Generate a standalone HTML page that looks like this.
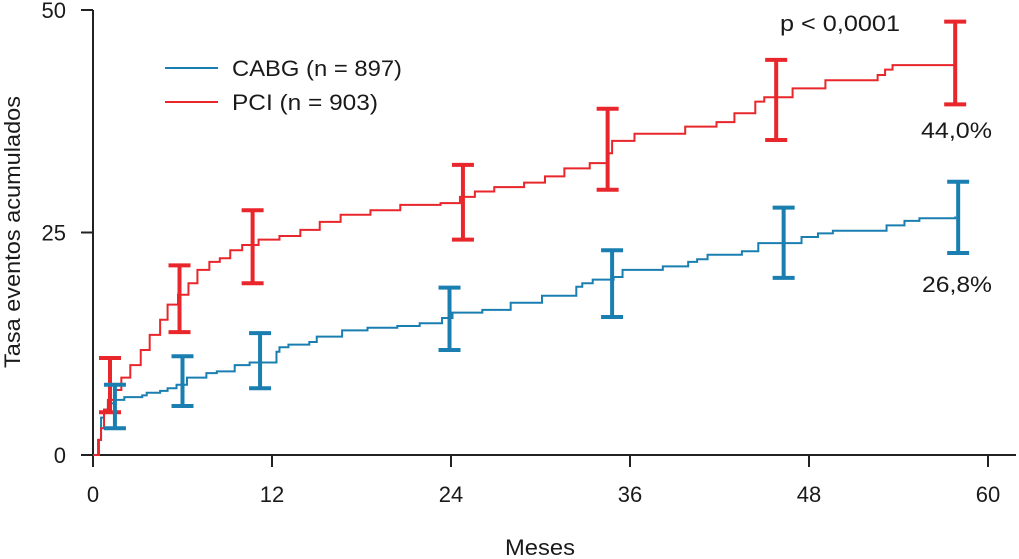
<!DOCTYPE html>
<html><head><meta charset="utf-8"><style>
html,body{margin:0;padding:0;background:#fff}
svg{display:block}
text{font-family:"Liberation Sans Narrow","Liberation Sans",sans-serif;fill:#1a1a1a}
</style></head><body>
<svg id="chart" width="1019" height="559" viewBox="0 0 1019 559" xmlns="http://www.w3.org/2000/svg">
<g id="axes"></g>
<g id="series"></g>
<g>
  <line x1="165" y1="68" x2="218" y2="68" stroke="#1a7fb0" stroke-width="2"/>
  <text x="232" y="76" font-size="22" textLength="170" lengthAdjust="spacingAndGlyphs">CABG (n = 897)</text>
  <line x1="165" y1="102" x2="218" y2="102" stroke="#e8262b" stroke-width="2"/>
  <text x="232" y="110" font-size="22" textLength="146" lengthAdjust="spacingAndGlyphs">PCI (n = 903)</text>
</g>
<text x="780" y="31" font-size="22" textLength="120" lengthAdjust="spacingAndGlyphs">p &lt; 0,0001</text>
<text x="921" y="138" font-size="22" textLength="71" lengthAdjust="spacingAndGlyphs">44,0%</text>
<text x="922" y="292" font-size="22" textLength="70" lengthAdjust="spacingAndGlyphs">26,8%</text>
<text transform="translate(20,232) rotate(-90)" text-anchor="middle" font-size="22" textLength="272" lengthAdjust="spacingAndGlyphs">Tasa eventos acumulados</text>
<text x="540" y="555" text-anchor="middle" font-size="22" textLength="70" lengthAdjust="spacingAndGlyphs">Meses</text>
</svg>
<script>
const xTicks=[0,12,24,36,48,60];
const yTicks=[0,25,50];
const pciMonths=[0.13,0.34,0.54,0.74,1.0,1.5,1.9,2.5,3.2,3.8,4.5,5.0,5.7,6.4,7.0,7.8,8.5,9.2,10.0,11.1,12.5,13.9,15.2,16.6,18.6,20.6,23.3,24.6,25.6,26.9,28.9,30.3,31.6,33.3,34.5,34.8,36.3,39.7,41.8,43.0,44.4,45.0,46.9,49.1,52.6,53.1,53.6,57.8];
const pciValues=[0,1.7,3.0,5.1,6.2,7.3,8.7,10.1,11.8,13.5,15.2,16.9,18.0,19.3,20.8,21.7,22.1,23.0,23.6,24.2,24.6,25.3,26.2,27.0,27.5,28.1,28.3,29.0,29.6,30.1,30.6,31.3,32.2,32.8,33.9,35.3,36.1,36.9,37.4,38.4,39.7,40.2,41.2,42.1,42.7,43.3,43.8,44.0];
const cabgMonths=[0.27,0.4,0.54,0.74,1.0,1.5,2.1,3.3,3.6,4.5,5.0,5.6,6.3,7.6,8.3,9.5,10.5,12.3,12.5,13.1,14.5,15.0,16.7,18.4,20.4,21.9,23.4,24.1,26.1,28.0,30.1,32.4,32.8,33.5,34.9,35.5,38.2,39.9,40.5,41.2,43.5,44.6,47.5,48.6,49.6,53.2,54.4,55.4,57.8];
const cabgValues=[0,1.7,4.2,5.1,5.8,6.2,6.5,6.7,7.0,7.2,7.5,7.9,8.7,9.2,9.4,10.1,10.4,11.6,12.1,12.4,12.7,13.3,14.0,14.3,14.5,14.8,15.4,16.0,16.3,17.1,17.9,18.9,19.3,19.7,20.0,20.8,21.2,21.7,22.0,22.5,22.9,23.8,24.5,24.9,25.2,25.8,26.3,26.6,26.8];
const pciErrMonths=[1.14,5.8,10.7,24.8,34.5,45.8,57.8];
const pciErrHigh=[10.9,21.3,27.5,32.6,38.9,44.4,48.7];
const pciErrLow=[4.8,13.8,19.3,24.2,29.8,35.4,39.4];
const cabgErrMonths=[1.47,6.0,11.2,23.9,34.8,46.3,58.0];
const cabgErrHigh=[7.9,11.1,13.7,18.8,23.0,27.8,30.7];
const cabgErrLow=[3.0,5.5,7.5,11.8,15.5,19.9,22.7];

const NS='http://www.w3.org/2000/svg';
const X=m=>93+m*(988-93)/60;
const Y=v=>455-v*(455-10)/50;
function mk(tag,attrs,parent){const e=document.createElementNS(NS,tag);for(const k in attrs)e.setAttribute(k,attrs[k]);parent.appendChild(e);return e;}
const axes=document.getElementById('axes');
const series=document.getElementById('series');
let el;
el=mk('line',{x1:93,y1:10,x2:93,y2:456,stroke:'#222','stroke-width':2},axes);


el=mk('line',{x1:92,y1:455,x2:1016,y2:455,stroke:'#222','stroke-width':2},axes);


xTicks.forEach(t=>{
  el=mk('line',{x1:X(t),y1:455,x2:X(t),y2:467,stroke:'#222','stroke-width':2},axes);
  
  
  el=mk('text',{x:X(t),y:502,'text-anchor':'middle','font-size':22},axes);
  el.textContent=t;
  
  
});
yTicks.forEach(t=>{
  el=mk('line',{x1:81,y1:Y(t),x2:93,y2:Y(t),stroke:'#222','stroke-width':2},axes);
  
  
  el=mk('text',{x:66,y:Y(t)+8,'text-anchor':'end','font-size':22},axes);
  el.textContent=t;
  
  
});
function step(ms,vs,color,name){
  let d='M'+X(0)+','+Y(0);
  for(let i=0;i<ms.length;i++){d+=' H'+X(ms[i])+' V'+Y(vs[i]);}
  el=mk('path',{d:d,fill:'none',stroke:color,'stroke-width':2},series);
  
  
}
function errs(ms,hi,lo,color,name){
  for(let i=0;i<ms.length;i++){
    const g=mk('g',{stroke:color,'stroke-width':4},series);
    
    
    const x=X(ms[i]);
    mk('line',{x1:x,y1:Y(hi[i]),x2:x,y2:Y(lo[i])},g);
    mk('line',{x1:x-11,y1:Y(hi[i]),x2:x+11,y2:Y(hi[i])},g);
    mk('line',{x1:x-11,y1:Y(lo[i]),x2:x+11,y2:Y(lo[i])},g);
  }
}
step(cabgMonths,cabgValues,'#1a7fb0','cabg-line');
step(pciMonths,pciValues,'#e8262b','pci-line');
errs(pciErrMonths,pciErrHigh,pciErrLow,'#e8262b','pci-error-bar');
errs(cabgErrMonths,cabgErrHigh,cabgErrLow,'#1a7fb0','cabg-error-bar');
</script>
</body></html>
